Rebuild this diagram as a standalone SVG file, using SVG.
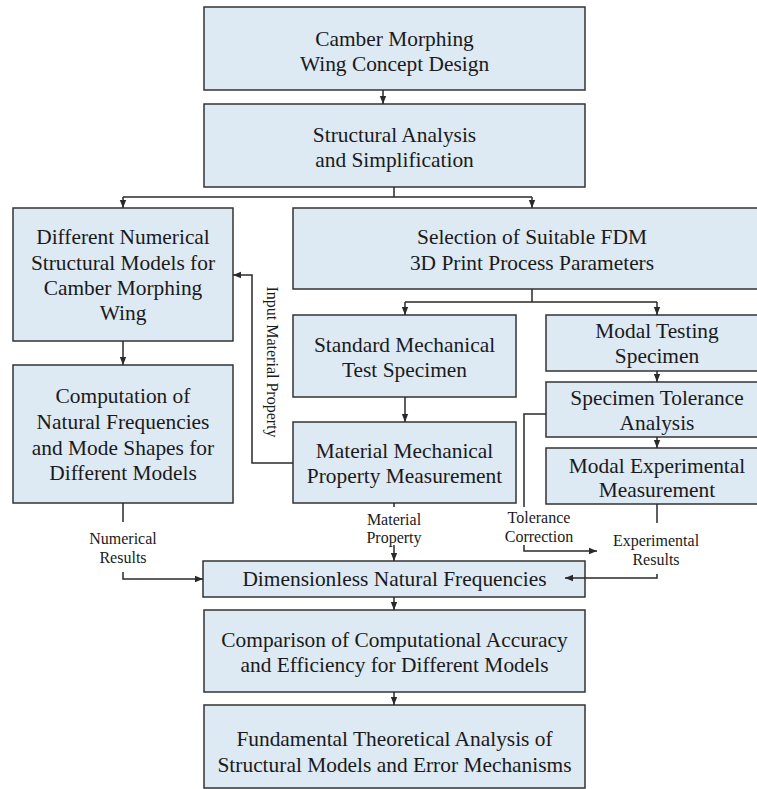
<svg xmlns="http://www.w3.org/2000/svg" width="757" height="789" viewBox="0 0 757 789">
<defs>
<marker id="ah" viewBox="0 0 8 8" refX="8" refY="4" markerWidth="8" markerHeight="8" markerUnits="userSpaceOnUse" orient="auto">
<path d="M0,0.8 L8,4 L0,7.2 Z" fill="#2a2a2a"/>
</marker>
<style>
.box{fill:#dde9f3;stroke:#333;stroke-width:1.5}
.bt{font-family:'Liberation Serif','Times New Roman',serif;font-size:21.4px;fill:#1a1a1a;text-anchor:middle}
.lb{font-family:'Liberation Serif','Times New Roman',serif;font-size:16px;fill:#1a1a1a;text-anchor:middle}
.c{fill:none;stroke:#2a2a2a;stroke-width:1.5}
</style>
</defs>
<rect width="757" height="789" fill="#fff"/>
<g id="n1"><rect class="box" x="204" y="7" width="381" height="83"/>
<text class="bt" x="394.5" y="46">Camber Morphing</text><text class="bt" x="394.5" y="71">Wing Concept Design</text></g>
<g id="n2"><rect class="box" x="204" y="104" width="381" height="83"/>
<text class="bt" x="394.5" y="142">Structural Analysis</text><text class="bt" x="394.5" y="167">and Simplification</text></g>
<g id="n3"><rect class="box" x="13" y="208" width="220" height="133"/>
<text class="bt" x="123" y="244">Different Numerical</text><text class="bt" x="123" y="270">Structural Models for</text><text class="bt" x="123" y="295">Camber Morphing</text><text class="bt" x="123" y="320">Wing</text></g>
<g id="n4"><rect class="box" x="13" y="365" width="220" height="138"/>
<text class="bt" x="123" y="403">Computation of</text><text class="bt" x="123" y="429">Natural Frequencies</text><text class="bt" x="123" y="455">and Mode Shapes for</text><text class="bt" x="123" y="480">Different Models</text></g>
<g id="n5"><rect class="box" x="293" y="208" width="470" height="81"/>
<text class="bt" x="532" y="244">Selection of Suitable FDM</text><text class="bt" x="532" y="270">3D Print Process Parameters</text></g>
<g id="n6"><rect class="box" x="293" y="315" width="223" height="82"/>
<text class="bt" x="404.5" y="352">Standard Mechanical</text><text class="bt" x="404.5" y="377">Test Specimen</text></g>
<g id="n7"><rect class="box" x="293" y="422" width="223" height="81"/>
<text class="bt" x="404.5" y="458">Material Mechanical</text><text class="bt" x="404.5" y="483">Property Measurement</text></g>
<g id="n8"><rect class="box" x="546" y="315" width="220" height="56"/>
<text class="bt" x="657" y="338">Modal Testing</text><text class="bt" x="657" y="363">Specimen</text></g>
<g id="n9"><rect class="box" x="546" y="382" width="220" height="55"/>
<text class="bt" x="657" y="405">Specimen Tolerance</text><text class="bt" x="657" y="430">Analysis</text></g>
<g id="n10"><rect class="box" x="546" y="448" width="220" height="56"/>
<text class="bt" x="657" y="473">Modal Experimental</text><text class="bt" x="657" y="497">Measurement</text></g>
<g id="n11"><rect class="box" x="203" y="561" width="382" height="36"/>
<text class="bt" x="394.5" y="586">Dimensionless Natural Frequencies</text></g>
<g id="n12"><rect class="box" x="204" y="610" width="381" height="82"/>
<text class="bt" x="394.5" y="647">Comparison of Computational Accuracy</text><text class="bt" x="394.5" y="672">and Efficiency for Different Models</text></g>
<g id="n13"><rect class="box" x="204" y="705" width="381" height="83"/>
<text class="bt" x="394.5" y="746">Fundamental Theoretical Analysis of</text><text class="bt" x="394.5" y="772">Structural Models and Error Mechanisms</text></g>
<g id="connectors">
<path class="c" d="M383,90 V104" marker-end="url(#ah)"/>
<path class="c" d="M394,187 V197 M123,197 H532"/>
<path class="c" d="M123,197 V208" marker-end="url(#ah)"/>
<path class="c" d="M532,197 V208" marker-end="url(#ah)"/>
<path class="c" d="M123,341 V365" marker-end="url(#ah)"/>
<path class="c" d="M532,289 V302 M405,302 H657"/>
<path class="c" d="M405,302 V315" marker-end="url(#ah)"/>
<path class="c" d="M657,302 V315" marker-end="url(#ah)"/>
<path class="c" d="M405,397 V422" marker-end="url(#ah)"/>
<path class="c" d="M657,371 V382" marker-end="url(#ah)"/>
<path class="c" d="M657,437 V448" marker-end="url(#ah)"/>
<path class="c" d="M293,463 H252 V275 H233" marker-end="url(#ah)"/>
<path class="c" d="M546,414 H524 V507"/>
<path class="c" d="M524,545 V551 H597" marker-end="url(#ah)"/>
<path class="c" d="M123,503 V522"/>
<path class="c" d="M123,572 V579 H203" marker-end="url(#ah)"/>
<path class="c" d="M394,503 V507"/>
<path class="c" d="M394,545 V561" marker-end="url(#ah)"/>
<path class="c" d="M657,504 V523"/>
<path class="c" d="M657,574 V578 H565" marker-end="url(#ah)"/>
<path class="c" d="M394,597 V610" marker-end="url(#ah)"/>
<path class="c" d="M394,692 V705" marker-end="url(#ah)"/>
<text class="lb" transform="translate(267,362) rotate(90)">Input Material Property</text>
<text class="lb" x="123" y="544">Numerical</text><text class="lb" x="123" y="563">Results</text>
<text class="lb" x="394" y="525">Material</text><text class="lb" x="394" y="543">Property</text>
<text class="lb" x="539" y="523">Tolerance</text><text class="lb" x="539" y="542">Correction</text>
<text class="lb" x="656" y="546">Experimental</text><text class="lb" x="656" y="565">Results</text>
</g>
</svg>
